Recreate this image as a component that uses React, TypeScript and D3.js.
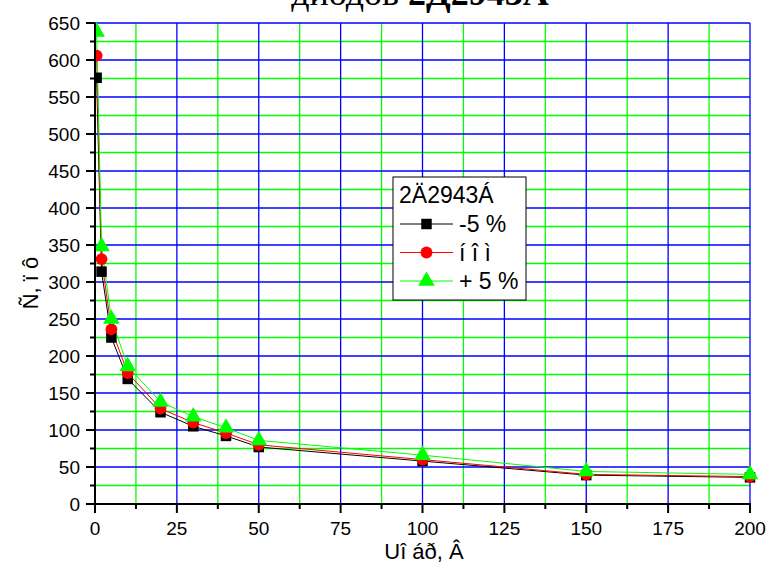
import React from "react";
import * as d3 from "d3";

// Reverse voltage, V
const voltage = [0.5, 2, 5, 10, 20, 30, 40, 50, 100, 150, 200];
// Capacitance, pF, for supply deviation -5 %, nominal, +5 %
const capMinus5 = [576, 314, 225, 169, 124, 105, 92, 77, 58, 39, 36];
const capNominal = [606, 331, 236, 177, 129, 110, 96, 80, 60, 40, 37];
const capPlus5 = [638, 348, 250, 186, 138, 118, 103, 86, 66, 44, 40];

const xTicks = [0, 25, 50, 75, 100, 125, 150, 175, 200];
const yTicks = [0, 50, 100, 150, 200, 250, 300, 350, 400, 450, 500, 550, 600, 650];

const W = 767;
const H = 564;
const M = { left: 95, right: 750, top: 23, bottom: 504 };

const x = d3.scaleLinear().domain([0, 200]).range([M.left, M.right]);
const y = d3.scaleLinear().domain([0, 650]).range([M.bottom, M.top]);

const xMinor = d3.range(12.5, 200, 25);
const yMinor = d3.range(25, 650, 50);

type Series = { name: string; values: number[]; color: string; marker: "square" | "circle" | "triangle" };

const series: Series[] = [
  { name: "-5 %", values: capMinus5, color: "#000000", marker: "square" },
  { name: "í î ì", values: capNominal, color: "#ff0000", marker: "circle" },
  { name: "+ 5 %", values: capPlus5, color: "#00ff00", marker: "triangle" },
];

const symbolType = {
  square: d3.symbolSquare,
  circle: d3.symbolCircle,
  triangle: d3.symbolTriangle,
};
const symbolSize = { square: 110, circle: 110, triangle: 120 };

function Marker({ kind, color, cx, cy }: { kind: Series["marker"]; color: string; cx: number; cy: number }) {
  const path = d3.symbol().type(symbolType[kind]).size(symbolSize[kind])();
  return <path d={path || ""} transform={`translate(${cx},${cy})`} fill={color} />;
}

export default function App() {
  const line = d3
    .line<[number, number]>()
    .x((d) => x(d[0]))
    .y((d) => y(d[1]));

  const sans = "Liberation Sans, Arial, sans-serif";

  return (
    <div style={{ position: "absolute", left: 0, top: 0 }}>
      <svg width={W} height={H} style={{ display: "block", background: "#fff" }}>
        <defs>
          <clipPath id="plot">
            <rect x={M.left} y={M.top - 10} width={M.right - M.left + 10} height={M.bottom - M.top + 10} />
          </clipPath>
        </defs>

        {/* Title, partly above the page edge */}
        <text
          x={420}
          y={5}
          textAnchor="middle"
          fontFamily="Liberation Serif, Times New Roman, serif"
          fontSize={36}
        >
          диодов <tspan fontWeight="bold">2Д2943А</tspan>
        </text>

        {/* Minor grid */}
        {xMinor.map((v) => (
          <line key={"xm" + v} x1={x(v)} x2={x(v)} y1={M.top} y2={M.bottom} stroke="#00ff00" strokeWidth={1.3} />
        ))}
        {yMinor.map((v) => (
          <line key={"ym" + v} x1={M.left} x2={M.right} y1={y(v)} y2={y(v)} stroke="#00ff00" strokeWidth={1.3} />
        ))}
        {/* Major grid */}
        {xTicks.slice(1).map((v) => (
          <line key={"xg" + v} x1={x(v)} x2={x(v)} y1={M.top} y2={M.bottom} stroke="#0000ff" strokeWidth={1.3} />
        ))}
        {yTicks.slice(1).map((v) => (
          <line key={"yg" + v} x1={M.left} x2={M.right} y1={y(v)} y2={y(v)} stroke="#0000ff" strokeWidth={1.3} />
        ))}

        {/* Series */}
        <g clipPath="url(#plot)">
          {series.map((s) => (
            <path
              key={"l" + s.name}
              d={line(voltage.map((v, i) => [v, s.values[i]] as [number, number])) || ""}
              fill="none"
              stroke={s.color}
              strokeWidth={1}
            />
          ))}
          {series.map((s) =>
            voltage.map((v, i) => (
              <Marker key={s.name + i} kind={s.marker} color={s.color} cx={x(v)} cy={y(s.values[i])} />
            ))
          )}
        </g>

        {/* Axes */}
        <line x1={M.left} x2={M.left} y1={M.top} y2={M.bottom + 1} stroke="#000" strokeWidth={2} />
        <line x1={M.left - 1} x2={M.right + 1} y1={M.bottom} y2={M.bottom} stroke="#000" strokeWidth={2} />
        {yTicks.map((v) => (
          <g key={"yt" + v}>
            <line x1={M.left - 9} x2={M.left} y1={y(v)} y2={y(v)} stroke="#000" strokeWidth={2} />
            <text x={M.left - 15} y={y(v)} dy="0.36em" textAnchor="end" fontFamily={sans} fontSize={19}>
              {v}
            </text>
          </g>
        ))}
        {yMinor.map((v) => (
          <line key={"ymt" + v} x1={M.left - 5} x2={M.left} y1={y(v)} y2={y(v)} stroke="#000" strokeWidth={2} />
        ))}
        {xTicks.map((v) => (
          <g key={"xt" + v}>
            <line x1={x(v)} x2={x(v)} y1={M.bottom} y2={M.bottom + 9} stroke="#000" strokeWidth={2} />
            <text x={x(v)} y={M.bottom + 31} textAnchor="middle" fontFamily={sans} fontSize={19}>
              {v}
            </text>
          </g>
        ))}
        {xMinor.map((v) => (
          <line key={"xmt" + v} x1={x(v)} x2={x(v)} y1={M.bottom} y2={M.bottom + 5} stroke="#000" strokeWidth={2} />
        ))}

        {/* Axis titles */}
        <text x={424} y={559} textAnchor="middle" fontFamily={sans} fontSize={22}>
          Uî áð, Â
        </text>
        <text
          transform={`translate(38,${283}) rotate(-90)`}
          textAnchor="middle"
          fontFamily={sans}
          fontSize={22}
        >
          Ñ, ï ô
        </text>

        {/* Legend */}
        <g>
          <rect x={393} y={177} width={133} height={123} fill="#fff" stroke="#000" strokeWidth={1} />
          <text x={399} y={203} fontFamily={sans} fontSize={23}>
            2Ä2943Á
          </text>
          {series.map((s, i) => {
            const cy = 224 + i * 28.5;
            return (
              <g key={"lg" + s.name}>
                <line x1={400} x2={453} y1={cy} y2={cy} stroke={s.color} strokeWidth={1} />
                <Marker kind={s.marker} color={s.color} cx={426.5} cy={cy} />
                <text x={459} y={cy} dy="0.36em" fontFamily={sans} fontSize={23}>
                  {s.name}
                </text>
              </g>
            );
          })}
        </g>
      </svg>
    </div>
  );
}
